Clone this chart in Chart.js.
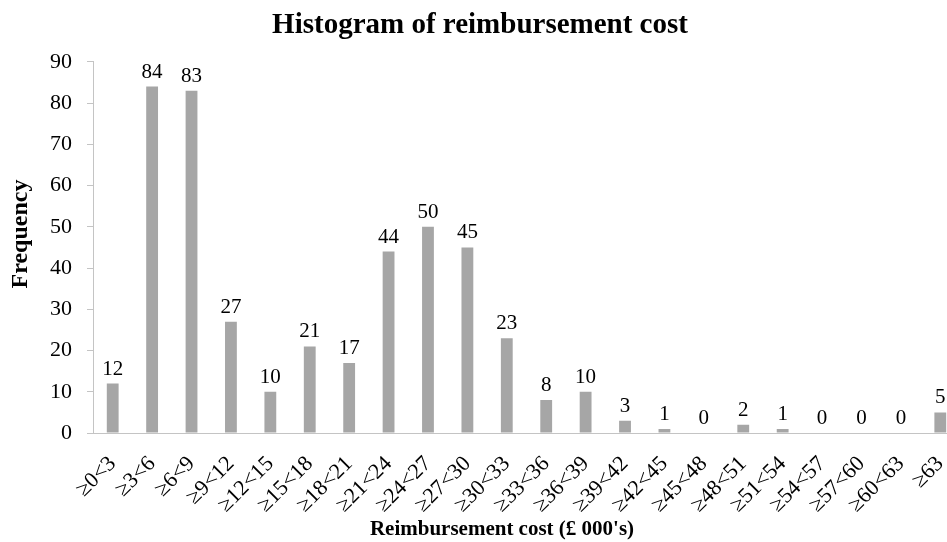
<!DOCTYPE html>
<html>
<head>
<meta charset="utf-8">
<script src="https://cdn.jsdelivr.net/npm/chart.js@4/dist/chart.umd.min.js"></script>
<style>
  html, body { margin: 0; padding: 0; background: #fff; overflow: hidden; }
  #wrap { width: 947px; height: 542px; overflow: hidden; }
</style>
</head>
<body>
<div id="wrap"><canvas id="chart" width="960" height="542"></canvas></div>
<script>
// Histogram bins (£ 000's) and their frequencies
const categories = [
    '≥0<3', '≥3<6', '≥6<9', '≥9<12', '≥12<15', '≥15<18', '≥18<21', '≥21<24',
    '≥24<27', '≥27<30', '≥30<33', '≥33<36', '≥36<39', '≥39<42', '≥42<45',
    '≥45<48', '≥48<51', '≥51<54', '≥54<57', '≥57<60', '≥60<63', '≥63'
];
const frequency = [12, 84, 83, 27, 10, 21, 17, 44, 50, 45, 23, 8, 10, 3, 1, 0, 2, 1, 0, 0, 0, 5];
const yTicks = [0, 10, 20, 30, 40, 50, 60, 70, 80, 90];

const FONT = '"Liberation Serif", "Times New Roman", serif';
const AXIS_GREY = '#c4c4c4';

// Value labels on top of every bar
const barLabels = {
    id: 'barLabels',
    afterDatasetsDraw(chart) {
        const ctx = chart.ctx;
        const meta = chart.getDatasetMeta(0);
        ctx.save();
        ctx.font = '21px ' + FONT;
        ctx.fillStyle = '#000';
        ctx.textAlign = 'center';
        ctx.textBaseline = 'alphabetic';
        meta.data.forEach((bar, i) => {
            ctx.fillText(String(frequency[i]), bar.x, bar.y - 9);
        });
        ctx.restore();
    }
};

// Axis titles, placed where the original put them (slightly off-centre)
const axisTitles = {
    id: 'axisTitles',
    afterDraw(chart) {
        const ctx = chart.ctx;
        ctx.save();
        ctx.fillStyle = '#000';
        ctx.textAlign = 'center';
        ctx.textBaseline = 'middle';
        ctx.font = 'bold 21px ' + FONT;
        ctx.fillText("Reimbursement cost (£ 000's)", 502, 530);
        ctx.translate(21, 234);
        ctx.rotate(-Math.PI / 2);
        ctx.font = 'bold 24px ' + FONT;
        ctx.fillText('Frequency', 0, 0);
        ctx.restore();
    }
};

new Chart(document.getElementById('chart'), {
    type: 'bar',
    data: {
        labels: categories,
        datasets: [{
            data: frequency,
            backgroundColor: '#a6a6a6',
            borderWidth: 0,
            categoryPercentage: 1,
            barPercentage: 0.3
        }]
    },
    options: {
        responsive: false,
        animation: false,
        layout: { padding: 0 },
        plugins: {
            legend: { display: false },
            tooltip: { enabled: false },
            title: {
                display: true,
                text: 'Histogram of reimbursement cost',
                color: '#000',
                font: { family: FONT, size: 29, weight: 'bold', lineHeight: 1.2 },
                padding: { top: 8, bottom: 19 }
            }
        },
        scales: {
            x: {
                grid: { display: true, drawOnChartArea: false, drawTicks: false },
                border: { display: true, color: AXIS_GREY, width: 1 },
                ticks: {
                    color: '#000',
                    font: { family: FONT, size: 22 },
                    minRotation: 45,
                    maxRotation: 45,
                    padding: 18,
                    autoSkip: false
                },
                afterFit(scale) {
                    scale.height = 109;
                    // the plot runs right up to (and past) the canvas edge
                    scale.paddingLeft = 0;
                    scale.paddingRight = 0;
                }
            },
            y: {
                min: 0,
                max: 90,
                afterBuildTicks(scale) { scale.ticks = yTicks.map(v => ({ value: v })); },
                grid: { display: true, drawOnChartArea: false, drawTicks: true, tickLength: 6, color: AXIS_GREY },
                border: { display: true, color: AXIS_GREY, width: 1 },
                ticks: {
                    color: '#000',
                    font: { family: FONT, size: 22 },
                    padding: 15
                },
                afterFit(scale) { scale.width = 93; }
            }
        }
    },
    plugins: [barLabels, axisTitles]
});
</script>
</body>
</html>
